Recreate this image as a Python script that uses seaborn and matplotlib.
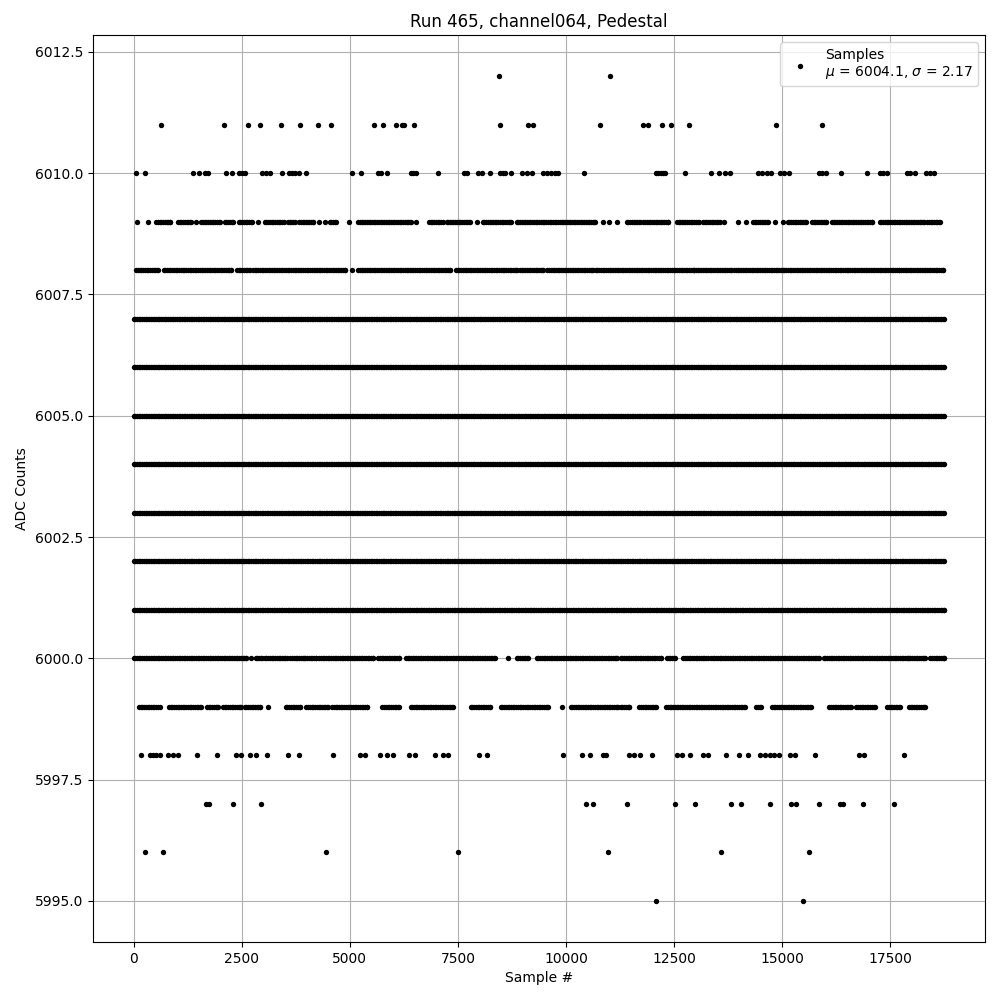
import numpy as np
import pandas as pd
import matplotlib
matplotlib.use("Agg")
import matplotlib.pyplot as plt
import seaborn as sns

# statistics quoted in the legend
MEAN = 6004.1
STD = 2.17
N_SAMPLES = 18750

# single samples at the sparse ADC levels (sample #)
pts_6012 = [8457, 11018]
pts_6011 = [625, 2091, 2647, 2924, 3403, 3843, 4267, 4568, 5563, 5772, 6065, 6196,
            6250, 6481, 8480, 9128, 9244, 10787, 11775, 11906, 12230, 12438, 12832,
            14861, 15910]
pts_6010 = [54, 262, 1373, 1512, 1643, 1721, 2130, 2276, 2438, 2515, 2585, 2978, 3071,
            3163, 3434, 3588, 3657, 3735, 3827, 3997, 5054, 5262, 5656, 5733, 5849, 6412,
            6466, 6528, 7045, 7639, 7701, 7971, 8048, 8241, 8472, 8534, 8588, 8727, 8989,
            9089, 9205, 9460, 9553, 9645, 9745, 9823, 10424, 12083, 12137, 12191, 12253,
            12292, 12762, 13341, 13526, 13681, 13781, 14437, 14529, 14645, 14738, 14954,
            15031, 15147, 15857, 15918, 16019, 16350, 16952, 17253, 17330, 17423, 17886,
            17963, 18079, 18333, 18426, 18503]
pts_5998 = [178, 371, 447, 525, 602, 795, 911, 1026, 1466, 1929, 2377, 2492, 2701, 2840,
            3086, 3572, 3827, 4614, 5247, 5347, 5710, 5849, 5988, 6374, 6505, 6968, 7145,
            7276, 7994, 8179, 9938, 10378, 10563, 10849, 10926, 11451, 11574, 11713, 11998,
            12562, 12678, 12855, 13164, 13272, 13696, 13989, 14198, 14475, 14606, 14707,
            14815, 14915, 15185, 15286, 15748, 16767, 16883, 17808]
pts_5997 = [1682, 1744, 2299, 2948, 10463, 10633, 11420, 12531, 12971, 13804, 14035,
            14707, 15208, 15317, 15849, 16343, 16405, 16860, 17577]
pts_5996 = [262, 679, 4452, 7508, 10980, 13573, 15610]
pts_5995 = [12091, 15471]

# spans of consecutive samples sitting at the busy levels (first, last sample #)
runs_6009 = [(77, 77), (332, 332), (525, 849), (1026, 1320), (1435, 1435), (1566, 2006),
             (2106, 2299), (2431, 2739), (2878, 2878), (3032, 3472), (3572, 3727),
             (3827, 4151), (4282, 4282), (4437, 4437), (4537, 4691), (4992, 4992),
             (5193, 6404), (6535, 6535), (6829, 7145), (7238, 7778), (7932, 7932),
             (8071, 8719), (8858, 10671), (10864, 10864), (10995, 10995), (11188, 11188),
             (11404, 11713), (11790, 12369), (12562, 13063), (13164, 13549), (13658, 13658),
             (13966, 13966), (14167, 14167), (14321, 14668), (14822, 14822), (15007, 15007),
             (15124, 15555), (15687, 16011), (16150, 17076), (17253, 18272), (18349, 18658)]
runs_6008 = [(62, 563), (694, 2261), (2392, 2701), (2762, 4884), (5054, 5054),
             (5193, 7315), (7454, 8858), (8935, 9475), (9568, 10633), (10687, 12948),
             (12963, 13812), (13889, 17693), (17747, 18719)]
runs_6007 = [(0, 18749)]
runs_6006 = [(0, 18749)]
runs_6005 = [(0, 18749)]
runs_6004 = [(0, 18749)]
runs_6003 = [(0, 18749)]
runs_6002 = [(0, 18749)]
runs_6001 = [(0, 3590), (3640, 9180), (9230, 12730), (12780, 18749)]
runs_6000 = [(0, 2608), (2724, 2724), (2824, 2978), (3032, 3549), (3627, 3958),
             (4012, 4213), (4290, 5540), (5656, 6142), (6296, 8357), (8665, 8665),
             (8858, 9128), (9321, 11173), (11265, 12191), (12330, 12523), (12716, 13272),
             (13349, 15841), (15957, 17924), (17963, 18310), (18426, 18749)]
runs_5999 = [(124, 602), (818, 1567), (1698, 1952), (2068, 2492), (2569, 2932),
             (3110, 3110), (3519, 3858), (3997, 4498), (4591, 5401), (5756, 6142),
             (6404, 7377), (7793, 8241), (8488, 9591), (9900, 9900), (10108, 11211),
             (11265, 11466), (11698, 12083), (12315, 14128), (14398, 14506), (14761, 15664),
             (16088, 16589), (16713, 17153), (17423, 17732), (17925, 18310)]

STEP = 40  # drawing stride inside a span

points = {6012: pts_6012, 6011: pts_6011, 6010: pts_6010, 5998: pts_5998,
          5997: pts_5997, 5996: pts_5996, 5995: pts_5995}
runs = {6009: runs_6009, 6008: runs_6008, 6007: runs_6007, 6006: runs_6006,
        6005: runs_6005, 6004: runs_6004, 6003: runs_6003, 6002: runs_6002,
        6001: runs_6001, 6000: runs_6000, 5999: runs_5999}

frames = []
for level, xs in points.items():
    frames.append(pd.DataFrame({"sample": xs, "adc": level}))
for level, spans in runs.items():
    xs = np.concatenate([np.r_[np.arange(a, b, STEP), b] for a, b in spans])
    frames.append(pd.DataFrame({"sample": xs, "adc": level}))
df = pd.concat(frames, ignore_index=True)

fig, ax = plt.subplots(figsize=(10, 10), dpi=100)
sns.scatterplot(data=df, x="sample", y="adc", color="k", s=15, linewidth=0,
                label="Samples\n$\\mu$ = {:.1f}, $\\sigma$ = {:.2f}".format(MEAN, STD), ax=ax)
ax.set_xlim(-0.05 * N_SAMPLES, 1.05 * N_SAMPLES)
ax.grid(True)
ax.set_axisbelow(True)
ax.set_title("Run 465, channel064, Pedestal")
ax.set_xlabel("Sample #")
ax.set_ylabel("ADC Counts")
ax.legend(loc="upper right")

fig.subplots_adjust(left=0.093, right=0.985, top=0.965, bottom=0.058)
fig.savefig("out.png", dpi=100)
